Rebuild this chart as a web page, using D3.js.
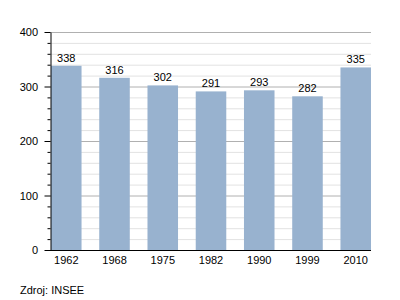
<!DOCTYPE html>
<html>
<head>
<meta charset="utf-8">
<script src="https://d3js.org/d3.v7.min.js"></script>
<style>
body { margin: 0; background: #fff; }
text { font-family: "Liberation Sans", Arial, sans-serif; }
</style>
</head>
<body>
<script>
var years = ["1962", "1968", "1975", "1982", "1990", "1999", "2010"];
var population = [338, 316, 302, 291, 293, 282, 335];
var yTicks = [0, 100, 200, 300, 400];

var width = 400, height = 300;
var plotLeft = 50, plotRight = 371, plotTop = 32, plotBottom = 250;

var svg = d3.select("body").append("svg")
    .attr("width", width)
    .attr("height", height);

var x = d3.scaleBand()
    .domain(years)
    .range([plotLeft + 1, plotRight])
    .paddingInner(0.367)
    .paddingOuter(0);

var y = d3.scaleLinear()
    .domain([0, 400])
    .range([plotBottom, plotTop]);

// minor grid every 20
svg.append("g").selectAll("line")
    .data(d3.range(20, 400, 20).filter(function(d) { return d % 100 != 0; }))
    .enter().append("line")
    .attr("x1", plotLeft).attr("x2", plotRight)
    .attr("y1", function(d) { return y(d) + 0.5; })
    .attr("y2", function(d) { return y(d) + 0.5; })
    .style("stroke", "#e2e2e2");

// major grid
svg.append("g").selectAll("line")
    .data(yTicks.slice(1))
    .enter().append("line")
    .attr("x1", plotLeft).attr("x2", plotRight)
    .attr("y1", function(d) { return y(d) + 0.5; })
    .attr("y2", function(d) { return y(d) + 0.5; })
    .style("stroke", "#b0b0b0");

svg.append("g").selectAll("rect")
    .data(population)
    .enter().append("rect")
    .attr("x", function(d, i) { return x(years[i]); })
    .attr("width", x.bandwidth())
    .attr("y", function(d) { return y(d); })
    .attr("height", function(d) { return plotBottom - y(d); })
    .style("fill", "#98b2cf");

svg.append("g").selectAll("text")
    .data(population)
    .enter().append("text")
    .attr("x", function(d, i) { return x(years[i]) + x.bandwidth() / 2; })
    .attr("y", function(d) { return y(d) - 4; })
    .attr("text-anchor", "middle")
    .style("font-size", "11px")
    .text(function(d) { return d; });

// y axis with minor ticks
var yAxis = d3.axisLeft(y).tickValues(d3.range(0, 401, 20))
    .tickSize(0)
    .tickFormat("");
var ya = svg.append("g")
    .attr("transform", "translate(" + (plotLeft + 0.5) + ",0)")
    .call(yAxis);
ya.select(".domain").style("stroke", "#000");
ya.selectAll(".tick line")
    .attr("x2", function(d) { return d % 100 == 0 ? -6 : -3; })
    .style("stroke", "#000");

svg.append("g").selectAll("text")
    .data(yTicks)
    .enter().append("text")
    .attr("x", 38)
    .attr("y", function(d) { return y(d) + 4; })
    .attr("text-anchor", "end")
    .style("font-size", "11px")
    .text(function(d) { return d; });

var xAxis = d3.axisBottom(x).tickSize(0).tickPadding(6);
var xa = svg.append("g")
    .attr("transform", "translate(0," + (plotBottom + 0.5) + ")")
    .call(xAxis);
xa.select(".domain").attr("d", "M" + plotLeft + ",0H" + plotRight).style("stroke", "#000");
xa.selectAll("text").style("font-size", "11px").style("font-family", "Liberation Sans, Arial, sans-serif").attr("fill", "#000");

svg.append("text")
    .attr("x", 20)
    .attr("y", 294)
    .style("font-size", "11px")
    .text("Zdroj: INSEE");
</script>
</body>
</html>
